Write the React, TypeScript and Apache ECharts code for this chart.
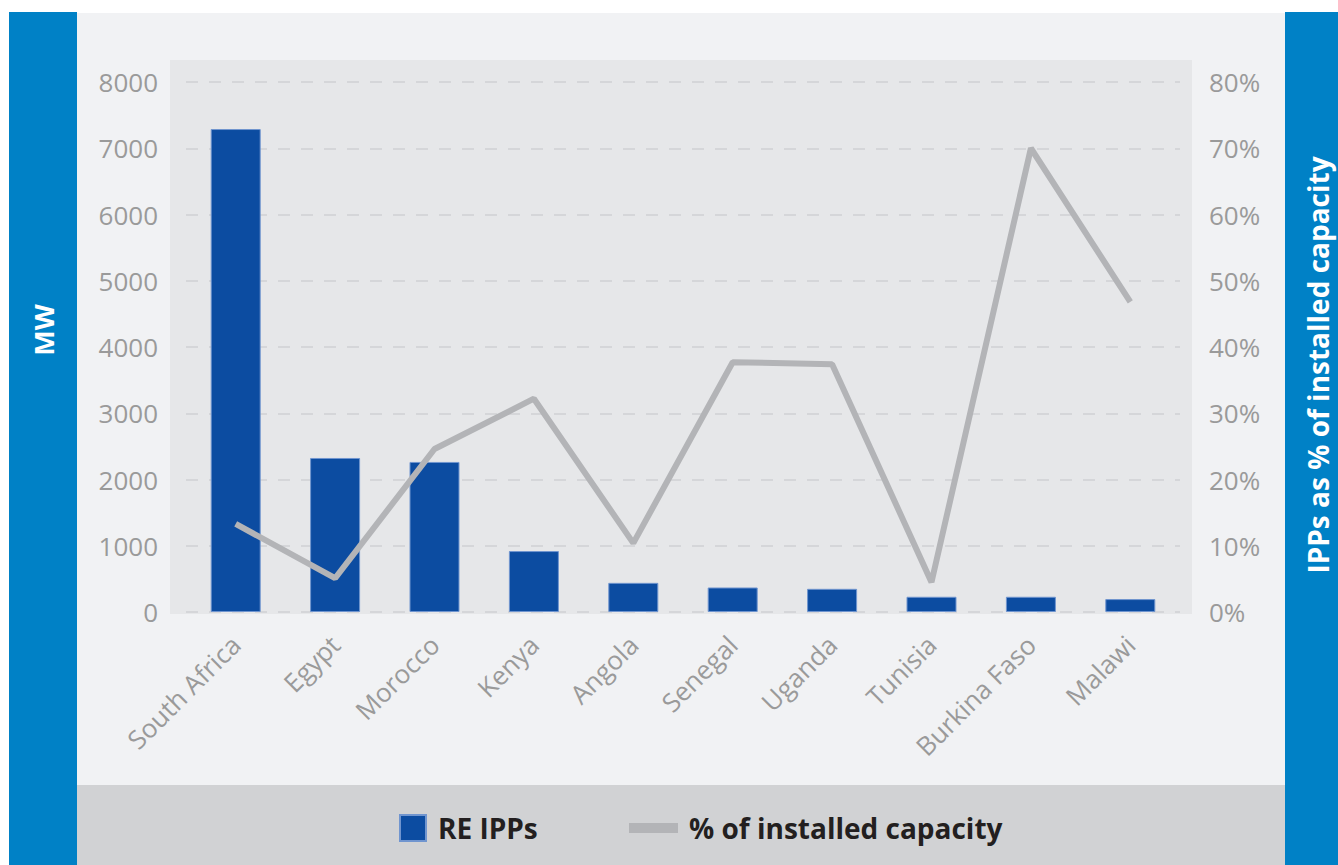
import React, { useEffect, useRef } from "react";
import * as echarts from "echarts";

const categories = ["South Africa", "Egypt", "Morocco", "Kenya", "Angola", "Senegal", "Uganda", "Tunisia", "Burkina Faso", "Malawi"];
const reIpps = [7290, 2325, 2265, 920, 440, 370, 350, 230, 230, 195];
const pctInstalled = [0.133, 0.051, 0.246, 0.322, 0.104, 0.377, 0.374, 0.045, 0.700, 0.468];
const leftTicks = { min: 0, max: 8000, interval: 1000 };
const rightTicks = { min: 0, max: 0.8, interval: 0.1 };

const BLUE_BAND = "#0081c6";
const BAR = "#0c4ca1";
const LINE = "#b3b4b7";
const LABEL = "#9a9a9a";
const FONT = "'Open Sans', 'Noto Sans', sans-serif";

export default function App() {
  const ref = useRef<HTMLDivElement>(null);
  useEffect(() => {
    if (!ref.current) return;
    const chart = echarts.init(ref.current, null, { renderer: "svg" });
    chart.setOption({
      animation: false,
      backgroundColor: "#ffffff",
      textStyle: { fontFamily: FONT },
      graphic: [
        { type: "rect", z: -100, shape: { x: 9, y: 12, width: 68, height: 853 }, style: { fill: BLUE_BAND } },
        { type: "rect", z: -100, shape: { x: 1285, y: 12, width: 53, height: 853 }, style: { fill: BLUE_BAND } },
        { type: "rect", z: -100, shape: { x: 77, y: 13, width: 1208, height: 772 }, style: { fill: "#f1f2f4" } },
        { type: "rect", z: -100, shape: { x: 77, y: 785, width: 1208, height: 80 }, style: { fill: "#d1d2d4" } },
        { type: "rect", z: -99, shape: { x: 170, y: 60, width: 1022, height: 554 }, style: { fill: "#e6e7e9" } },
        {
          type: "text", z: 100, x: 43, y: 330, rotation: Math.PI / 2,
          style: { text: "MW", fill: "#ffffff", font: `bold 27px ${FONT}`, align: "center", verticalAlign: "middle" },
        },
        {
          type: "text", z: 100, x: 1318, y: 365, rotation: Math.PI / 2,
          style: { text: "IPPs as % of installed capacity", fill: "#ffffff", font: `bold 28px ${FONT}`, align: "center", verticalAlign: "middle" },
        },
      ],
      grid: { left: 186, right: 158, top: 82, bottom: 253, containLabel: false },
      legend: [
        {
          data: [{ name: "RE IPPs", icon: "rect" }],
          left: 399, top: 814, padding: 0,
          itemWidth: 26, itemHeight: 26,
          textStyle: { fontFamily: FONT, fontWeight: "bold", fontSize: 28, color: "#231f20", lineHeight: 26, padding: [0, 0, 0, 7] },
        },
        {
          data: [{ name: "% of installed capacity", icon: "rect", itemStyle: { color: LINE } }],
          left: 629, top: 814, padding: 0,
          itemWidth: 49, itemHeight: 10,
          textStyle: { fontFamily: FONT, fontWeight: "bold", fontSize: 28, color: "#231f20", lineHeight: 26, padding: [0, 0, 0, 6] },
        },
      ],
      xAxis: {
        type: "category",
        data: categories,
        axisLine: { show: false },
        axisTick: { show: false },
        axisLabel: { rotate: 45, margin: 28, fontSize: 26, color: LABEL, fontFamily: FONT },
      },
      yAxis: [
        {
          type: "value",
          ...leftTicks,
          axisLine: { show: false },
          axisTick: { show: false },
          axisLabel: { fontSize: 26, color: LABEL, margin: 28, fontFamily: FONT, formatter: (v: number) => String(v) },
          splitLine: { show: true, lineStyle: { color: "#d0d1d3", width: 1.5, type: [12, 11] } },
        },
        {
          type: "value",
          ...rightTicks,
          axisLine: { show: false },
          axisTick: { show: false },
          axisLabel: { fontSize: 26, color: LABEL, margin: 29, fontFamily: FONT, formatter: (v: number) => `${Math.round(v * 100)}%` },
          splitLine: { show: false },
        },
      ],
      series: [
        {
          name: "RE IPPs",
          type: "bar",
          data: reIpps,
          barWidth: 50,
          itemStyle: { color: BAR, borderColor: "#7095cf", borderWidth: 1 },
        },
        {
          name: "% of installed capacity",
          type: "line",
          yAxisIndex: 1,
          data: pctInstalled,
          color: LINE,
          symbol: "none",
          lineStyle: { color: LINE, width: 6 },
          itemStyle: { color: LINE },
          z: 3,
        },
      ],
    });
    return () => chart.dispose();
  }, []);
  return <div ref={ref} style={{ position: "absolute", left: 0, top: 0, width: 1338, height: 865 }} />;
}
